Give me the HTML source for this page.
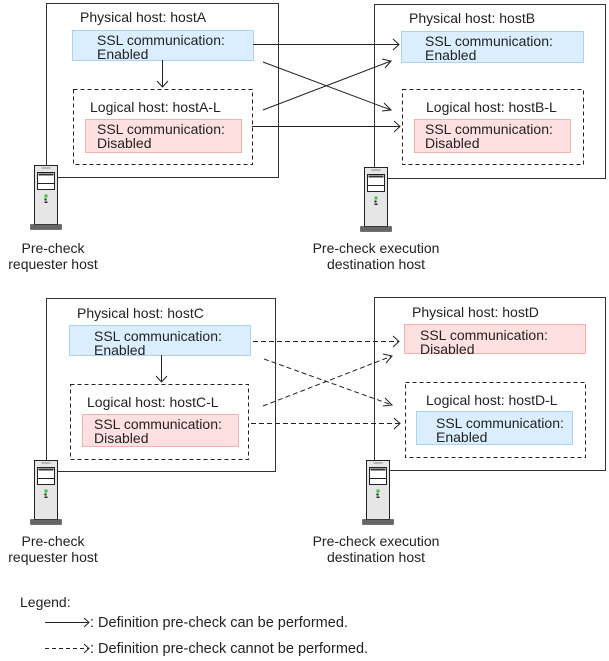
<!DOCTYPE html>
<html><head><meta charset="utf-8"><style>
html,body{margin:0;padding:0;background:#fff}
svg{display:block}
text{font-family:"Liberation Sans",Arial,sans-serif;font-size:14px;fill:#222}
</style></head><body>
<svg width="609" height="661" viewBox="0 0 609 661" xmlns="http://www.w3.org/2000/svg">
<defs>
<g id="srv">
<rect x="0" y="0" width="23" height="59" fill="#e6e6e6" stroke="#222" stroke-width="1"/>
<line x1="7" y1="2.5" x2="16" y2="2.5" stroke="#888"/>
<rect x="3" y="7" width="17" height="11" fill="#fff" stroke="#222"/>
<rect x="4" y="8" width="15" height="2" fill="#333"/>
<rect x="3" y="18" width="17" height="6" fill="#fff" stroke="#222"/>
<rect x="10" y="29" width="3" height="3" fill="#3c3"/>
<rect x="10" y="33" width="2" height="2" fill="#222"/>
<rect x="10" y="36" width="3" height="1.5" fill="#222"/>
<rect x="-4" y="59" width="31" height="5" fill="#666" stroke="#333" stroke-width="0.5"/>
</g>
</defs>
<g fill="none" stroke="#333" stroke-width="1">
<rect x="46.5" y="3.5" width="232" height="174"/>
<rect x="374.5" y="4.5" width="231" height="174"/>
</g>
<rect x="72.5" y="30.5" width="181" height="30" fill="#dbeeff" stroke="#a8d2f6"/>
<rect x="401.5" y="31.5" width="182" height="31" fill="#dbeeff" stroke="#a8d2f6"/>
<rect x="73.5" y="89.5" width="179" height="75" fill="none" stroke="#222" stroke-dasharray="4,3"/>
<rect x="402.5" y="89.5" width="181" height="75" fill="none" stroke="#222" stroke-dasharray="4,3"/>
<rect x="85.5" y="119.5" width="156" height="33" fill="#ffe0e0" stroke="#f6b0b0"/>
<rect x="414.5" y="119.5" width="156" height="33" fill="#ffe0e0" stroke="#f6b0b0"/>
<text x="80" y="22">Physical host: hostA</text>
<text x="97" y="45">SSL communication:</text><text x="97" y="59">Enabled</text>
<text x="90" y="112">Logical host: hostA-L</text>
<text x="97" y="134">SSL communication:</text><text x="97" y="148">Disabled</text>
<text x="409" y="23">Physical host: hostB</text>
<text x="425" y="46">SSL communication:</text><text x="425" y="60">Enabled</text>
<text x="426" y="112">Logical host: hostB-L</text>
<text x="425" y="134">SSL communication:</text><text x="425" y="148">Disabled</text>
<g stroke="#222" fill="none" stroke-width="1">
<line x1="162.5" y1="60" x2="162.5" y2="87"/><polyline points="157,81 162.5,87 168,81"/>
<line x1="253" y1="44.5" x2="399" y2="44.5"/><polyline points="393,39 399,44.5 393,50"/>
<line x1="252" y1="126.5" x2="400" y2="126.5"/><polyline points="394,121 400,126.5 394,132"/>
<line x1="263" y1="62" x2="391" y2="110"/><polyline points="384,103 391,110 382,111"/>
<line x1="263" y1="110" x2="391" y2="61"/><polyline points="382,59 391,61 385,68"/>
</g>
<use href="#srv" x="34.5" y="165.5"/>
<use href="#srv" x="364.5" y="167.5"/>
<text x="53" y="253" text-anchor="middle">Pre-check</text><text x="53" y="269" text-anchor="middle">requester host</text>
<text x="376" y="253" text-anchor="middle">Pre-check execution</text><text x="376" y="269" text-anchor="middle">destination host</text>

<g fill="none" stroke="#333" stroke-width="1">
<rect x="46.5" y="298.5" width="229" height="173"/>
<rect x="374.5" y="297.5" width="231" height="173"/>
</g>
<rect x="69.5" y="325.5" width="181" height="30" fill="#dbeeff" stroke="#a8d2f6"/>
<rect x="404.5" y="324.5" width="181" height="29" fill="#ffe0e0" stroke="#f6b0b0"/>
<rect x="70.5" y="384.5" width="178" height="75" fill="none" stroke="#222" stroke-dasharray="4,3"/>
<rect x="405.5" y="382.5" width="180" height="75" fill="none" stroke="#222" stroke-dasharray="4,3"/>
<rect x="82.5" y="414.5" width="156" height="32" fill="#ffe0e0" stroke="#f6b0b0"/>
<rect x="416.5" y="411.5" width="156" height="33" fill="#dbeeff" stroke="#a8d2f6"/>
<text x="77" y="318">Physical host: hostC</text>
<text x="94" y="341">SSL communication:</text><text x="94" y="355">Enabled</text>
<text x="87" y="407">Logical host: hostC-L</text>
<text x="94" y="429">SSL communication:</text><text x="94" y="443">Disabled</text>
<text x="412" y="317">Physical host: hostD</text>
<text x="420" y="340">SSL communication:</text><text x="420" y="354">Disabled</text>
<text x="426" y="405">Logical host: hostD-L</text>
<text x="436" y="428">SSL communication:</text><text x="436" y="442">Enabled</text>
<g stroke="#222" fill="none" stroke-width="1">
<line x1="161.5" y1="355" x2="161.5" y2="382"/><polyline points="156,376 161.5,382 167,376"/>
<g stroke-dasharray="5,3">
<line x1="253" y1="341.5" x2="399" y2="341.5"/>
<line x1="251" y1="423.5" x2="400" y2="423.5"/>
<line x1="264" y1="359" x2="392" y2="405"/>
<line x1="263" y1="406" x2="392" y2="356"/>
</g>
<polyline points="393,336 399,341.5 393,347"/>
<polyline points="394,418 400,423.5 394,429"/>
<polyline points="385,398 392,405 383,406"/>
<polyline points="383,354 392,356 386,363"/>
</g>
<use href="#srv" x="34.5" y="460.5"/>
<use href="#srv" x="366.5" y="460.5"/>
<text x="53" y="546" text-anchor="middle">Pre-check</text><text x="53" y="562" text-anchor="middle">requester host</text>
<text x="376" y="546" text-anchor="middle">Pre-check execution</text><text x="376" y="562" text-anchor="middle">destination host</text>

<text x="20" y="607" style="font-size:14px">Legend:</text>
<g stroke="#222" fill="none">
<line x1="45" y1="622.5" x2="89" y2="622.5"/><polyline points="84,618 89,622.5 84,627"/>
<line x1="45" y1="648.5" x2="89" y2="648.5" stroke-dasharray="4,3"/><polyline points="84,644 89,648.5 84,653"/>
</g>
<text x="90" y="627" style="font-size:14.5px">: Definition pre-check can be performed.</text>
<text x="90" y="653" style="font-size:14.5px">: Definition pre-check cannot be performed.</text>
</svg>
</body></html>
